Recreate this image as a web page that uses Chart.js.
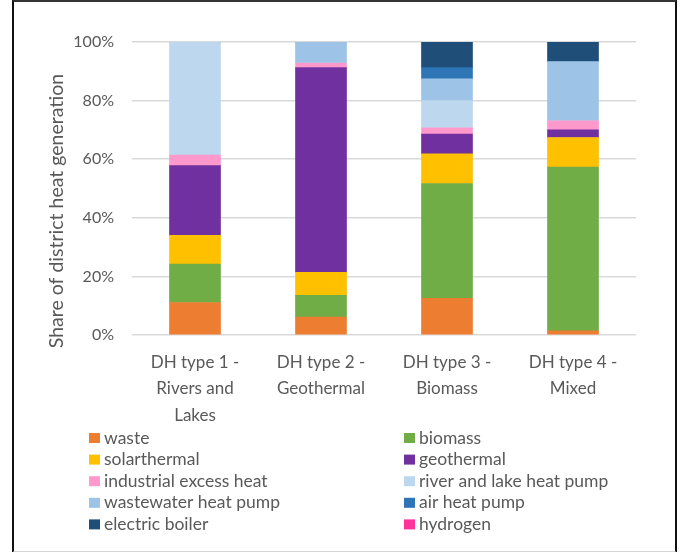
<!DOCTYPE html>
<html>
<head>
<meta charset="utf-8">
<script src="https://cdn.jsdelivr.net/npm/chart.js@4/dist/chart.umd.min.js"></script>
<style>
  html, body { margin: 0; padding: 0; background: #fff; }
  #wrap { position: relative; width: 686px; height: 552px; }
  #frame {
    position: absolute; left: 12px; top: 0px; width: 661px; height: 549px;
    border-left: 2px solid #111; border-right: 2px solid #111;
    border-top: 2px solid #333; border-bottom: 2px solid #d4d4d4;
    pointer-events: none;
  }
  canvas { position: absolute; left: 0; top: 0; }
</style>
</head>
<body>
<div id="wrap">
  <canvas id="c" width="686" height="552"></canvas>
  <div id="frame"></div>
</div>
<script>
// District heating types and their heat-generation mix (% of total)
const categories = [
  ["DH type 1 -", "Rivers and", "Lakes"],
  ["DH type 2 -", "Geothermal"],
  ["DH type 3 -", "Biomass"],
  ["DH type 4 -", "Mixed"]
];
const waste       = [11.1, 6.1, 12.5, 1.4];
const biomass     = [13.1, 7.4, 39.2, 55.9];
const solarthermal = [9.8, 7.9, 10.1, 10.1];
const geothermal  = [23.8, 69.9, 6.8, 2.6];
const industrialExcessHeat = [3.6, 1.5, 2.1, 3.1];
const riverLakeHeatPump    = [38.6, 0, 9.3, 0];
const wastewaterHeatPump   = [0, 7.2, 7.4, 20.2];
const airHeatPump          = [0, 0, 3.85, 0];
const electricBoiler       = [0, 0, 8.75, 6.7];
const hydrogen             = [0, 0, 0, 0];
const yTicks = [0, 20, 40, 60, 80, 100];

const FONT = "Lato, 'Open Sans', sans-serif";
const TEXT = "#595959";

const series = [
  ["waste", waste, "#ED7D31"],
  ["biomass", biomass, "#70AD47"],
  ["solarthermal", solarthermal, "#FFC000"],
  ["geothermal", geothermal, "#7030A0"],
  ["industrial excess heat", industrialExcessHeat, "#FF99CC"],
  ["river and lake heat pump", riverLakeHeatPump, "#BDD7EE"],
  ["wastewater heat pump", wastewaterHeatPump, "#9DC3E6"],
  ["air heat pump", airHeatPump, "#2E75B6"],
  ["electric boiler", electricBoiler, "#1F4E79"],
  ["hydrogen", hydrogen, "#FF3399"]
];

// Two-column legend and rotated y title, drawn under the plot
const extras = {
  id: "extras",
  afterDraw(chart) {
    const ctx = chart.ctx;
    ctx.save();
    ctx.fillStyle = TEXT;
    ctx.font = "19.5px " + FONT;
    ctx.textAlign = "center";
    ctx.textBaseline = "middle";
    ctx.translate(57, 211);
    ctx.rotate(-Math.PI / 2);
    ctx.fillText("Share of district heat generation", 0, 0);
    ctx.restore();

    ctx.save();
    ctx.font = "17.5px " + FONT;
    ctx.textBaseline = "middle";
    ctx.textAlign = "left";
    chart.data.datasets.forEach((ds, i) => {
      const col = i % 2, row = Math.floor(i / 2);
      const x = col === 0 ? 89 : 404;
      const y = 438 + row * 21.6;
      ctx.fillStyle = ds.backgroundColor;
      ctx.fillRect(x, y - 5, 11, 10);
      ctx.fillStyle = TEXT;
      ctx.fillText(ds.label, x + 15, y);
    });
    ctx.restore();
  }
};

new Chart(document.getElementById("c"), {
  type: "bar",
  data: {
    labels: categories,
    datasets: series.map(([label, data, color]) => ({
      label, data, backgroundColor: color, borderWidth: 0,
      barThickness: 51
    }))
  },
  options: {
    responsive: false,
    animation: false,
    layout: { padding: { top: 42, right: 50, bottom: 117, left: 0 } },
    plugins: { legend: { display: false }, tooltip: { enabled: false } },
    scales: {
      x: {
        stacked: true,
        grid: { display: false, drawTicks: false },
        border: { display: false },
        ticks: { color: TEXT, font: { family: FONT, size: 17, lineHeight: 1.56 }, padding: 14, maxRotation: 0, autoSkip: false },
        afterFit(s) { s.height = 100; }
      },
      y: {
        stacked: true,
        min: 0, max: 100,
        afterBuildTicks(s) { s.ticks = yTicks.map(v => ({ value: v })); },
        grid: { color: "#D9D9D9", lineWidth: 1.5, drawTicks: false },
        border: { display: false },
        ticks: { color: TEXT, font: { family: FONT, size: 16 }, padding: 18, callback: v => v + "%" },
        afterFit(s) { s.width = 132; }
      }
    }
  },
  plugins: [extras]
});
</script>
</body>
</html>
